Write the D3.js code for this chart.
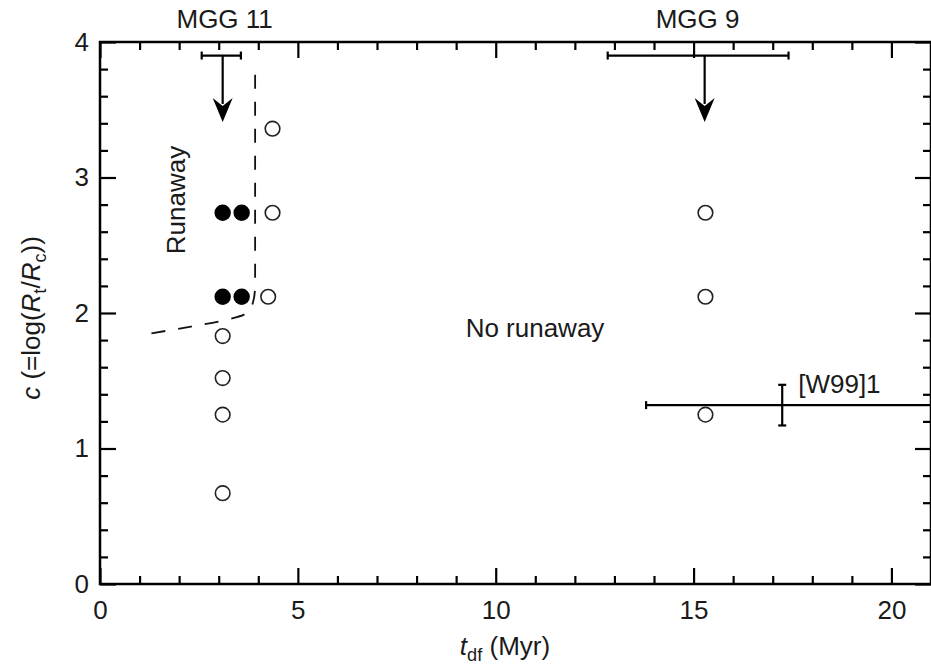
<!DOCTYPE html>
<html><head><meta charset="utf-8">
<script src="https://cdn.jsdelivr.net/npm/d3@7"></script>
<style>
body{margin:0;background:#fff;}
svg{display:block;font-family:"Liberation Sans",Arial,sans-serif;}
</style></head>
<body><svg id="c" width="931" height="665"></svg>
<script>
// ---- data ----
const openX = [3.1, 3.1, 3.1, 3.1, 4.25, 4.36, 4.36, 15.3, 15.3, 15.3];
const openY = [0.67, 1.25, 1.52, 1.83, 2.12, 2.74, 3.36, 1.25, 2.12, 2.74];
const filledX = [3.1, 3.58, 3.1, 3.58];
const filledY = [2.12, 2.12, 2.74, 2.74];
const boundaryX = [1.3, 2.3, 3.2, 3.65, 3.85, 3.92, 3.92];
const boundaryY = [1.85, 1.90, 1.95, 1.99, 2.06, 2.2, 3.82];
const limitNames = ["MGG 11", "MGG 9"];
const limitLabelX = [3.15, 15.1];
const limitX = [3.1, 15.28];
const limitXlo = [2.57, 12.83];
const limitXhi = [3.56, 17.4];
const limitY = [3.9, 3.9];
const limitArrowTo = [3.41, 3.41];
const w99X = 17.24, w99Xlo = 13.8, w99Xhi = 21.0;
const w99Y = 1.32, w99Ylo = 1.17, w99Yhi = 1.47;
const xMajor = [0, 5, 10, 15, 20];
const yMajor = [0, 1, 2, 3, 4];

// ---- layout ----
const svg = d3.select("#c");
const L = 100, R = 931, T = 42, B = 584;
const x = d3.scaleLinear().domain([0, 21]).range([L, R]);
const y = d3.scaleLinear().domain([0, 4]).range([B, T]);
const FS = 26;
const TXT = "#1a1a1a";

const xMinor = d3.range(0, 22, 1).filter(v => v % 5 !== 0);
const yMinor = d3.range(0, 4.01, 0.2).map(v => +v.toFixed(1)).filter(v => Math.abs(v - Math.round(v)) > 0.01);

function styleAxis(g){
  g.select(".domain").remove();
  g.selectAll("line").attr("stroke","#000").attr("stroke-width",2.2);
  g.selectAll("text").attr("font-size",FS).attr("fill",TXT).attr("font-family","Liberation Sans, Arial, sans-serif");
}
// bottom
svg.append("g").attr("transform",`translate(0,${B})`).call(d3.axisBottom(x).tickValues(xMajor).tickSize(-16).tickPadding(16.5).tickFormat(d3.format("d"))).call(styleAxis);
svg.append("g").attr("transform",`translate(0,${B})`).call(d3.axisBottom(x).tickValues(xMinor).tickSize(-8).tickFormat("")).call(styleAxis);
// top
svg.append("g").attr("transform",`translate(0,${T})`).call(d3.axisTop(x).tickValues(xMajor).tickSize(-16).tickFormat("")).call(styleAxis);
svg.append("g").attr("transform",`translate(0,${T})`).call(d3.axisTop(x).tickValues(xMinor).tickSize(-8).tickFormat("")).call(styleAxis);
// left
svg.append("g").attr("transform",`translate(${L},0)`).call(d3.axisLeft(y).tickValues(yMajor).tickSize(-16).tickPadding(11).tickFormat(d3.format("d"))).call(styleAxis);
svg.append("g").attr("transform",`translate(${L},0)`).call(d3.axisLeft(y).tickValues(yMinor).tickSize(-8).tickFormat("")).call(styleAxis);
// right
svg.append("g").attr("transform",`translate(${R},0)`).call(d3.axisRight(y).tickValues(yMajor).tickSize(-16).tickFormat("")).call(styleAxis);
svg.append("g").attr("transform",`translate(${R},0)`).call(d3.axisRight(y).tickValues(yMinor).tickSize(-8).tickFormat("")).call(styleAxis);
// frame
svg.append("rect").attr("x",L).attr("y",T).attr("width",R-L).attr("height",B-T)
  .attr("fill","none").attr("stroke","#000").attr("stroke-width",2.5);

// boundary dashed line
const bd = boundaryX.map((v,i)=>[v,boundaryY[i]]);
svg.append("path").datum(bd)
  .attr("d", d3.line().x(d=>x(d[0])).y(d=>y(d[1])).curve(d3.curveMonotoneY))
  .attr("fill","none").attr("stroke","#111").attr("stroke-width",1.8).attr("stroke-dasharray","14,13");

// upper-limit bars
limitNames.forEach((n,i)=>{
  const g = svg.append("g").attr("stroke","#000").attr("stroke-width",2.2);
  g.append("line").attr("x1",x(limitXlo[i])).attr("x2",x(limitXhi[i])).attr("y1",y(limitY[i])).attr("y2",y(limitY[i]));
  [limitXlo[i],limitXhi[i]].forEach(v=>g.append("line").attr("x1",x(v)).attr("x2",x(v)).attr("y1",y(limitY[i])-4).attr("y2",y(limitY[i])+4));
  svg.append("path").attr("d",`M${x(limitX[i])},${y(limitY[i])} V${y(limitArrowTo[i])-18}`)
    .attr("stroke","#000").attr("stroke-width",2.2);
  svg.append("path").attr("transform",`translate(${x(limitX[i])-10},${y(limitArrowTo[i])-24})`)
    .attr("d","M0,0 L10,8 L20,0 L10,24 Z").attr("fill","#000");
  svg.append("text").attr("x",x(limitLabelX[i])).attr("y",28).attr("text-anchor","middle")
    .attr("font-size",FS).attr("fill",TXT).text(n);
});

// W99 error cross
const gw = svg.append("g").attr("stroke","#000").attr("stroke-width",2.2);
gw.append("line").attr("x1",x(w99Xlo)).attr("x2",x(w99Xhi)).attr("y1",y(w99Y)).attr("y2",y(w99Y));
gw.append("line").attr("x1",x(w99Xlo)).attr("x2",x(w99Xlo)).attr("y1",y(w99Y)-4).attr("y2",y(w99Y)+4);
gw.append("line").attr("x1",x(w99X)).attr("x2",x(w99X)).attr("y1",y(w99Ylo)).attr("y2",y(w99Yhi));
[w99Ylo,w99Yhi].forEach(v=>gw.append("line").attr("x1",x(w99X)-4).attr("x2",x(w99X)+4).attr("y1",y(v)).attr("y2",y(v)));
svg.append("text").attr("x",x(w99X)+16).attr("y",y(w99Yhi)+8).attr("font-size",FS).attr("fill",TXT).text("[W99]1");

// points
svg.selectAll("circle.open").data(openX.map((v,i)=>[v,openY[i]])).enter().append("circle")
  .attr("cx",d=>x(d[0])).attr("cy",d=>y(d[1])).attr("r",7.3)
  .attr("fill","#fff").attr("stroke","#222").attr("stroke-width",1.6);
svg.selectAll("circle.filled").data(filledX.map((v,i)=>[v,filledY[i]])).enter().append("circle")
  .attr("cx",d=>x(d[0])).attr("cy",d=>y(d[1])).attr("r",8.2).attr("fill","#000");

// region labels
svg.append("text").attr("transform",`translate(185,200) rotate(-90)`).attr("text-anchor","middle")
  .attr("font-size",FS).attr("fill",TXT).text("Runaway");
svg.append("text").attr("x",535).attr("y",337).attr("text-anchor","middle")
  .attr("font-size",FS).attr("fill",TXT).text("No runaway");

// axis titles
const xt = svg.append("text").attr("x",505).attr("y",655).attr("text-anchor","middle").attr("font-size",FS).attr("fill",TXT);
xt.append("tspan").attr("font-style","italic").text("t");
xt.append("tspan").attr("font-size",FS*0.7).attr("dy",6).text("df");
xt.append("tspan").attr("dy",-6).text(" (Myr)");

const yt = svg.append("text").attr("transform",`translate(40,318) rotate(-90)`).attr("text-anchor","middle").attr("font-size",FS).attr("fill",TXT);
yt.append("tspan").attr("font-style","italic").text("c");
yt.append("tspan").text(" (=log(");
yt.append("tspan").attr("font-style","italic").text("R");
yt.append("tspan").attr("font-size",FS*0.7).attr("dy",6).text("t");
yt.append("tspan").attr("dy",-6).text("/");
yt.append("tspan").attr("font-style","italic").text("R");
yt.append("tspan").attr("font-size",FS*0.7).attr("dy",6).text("c");
yt.append("tspan").attr("dy",-6).text("))");
</script></body></html>
